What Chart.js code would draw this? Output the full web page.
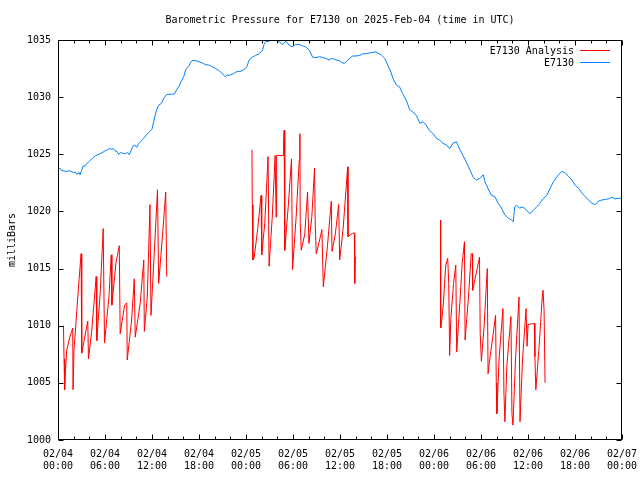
<!DOCTYPE html>
<html>
<head>
<meta charset="utf-8">
<title>Barometric Pressure E7130</title>
<script src="https://cdn.jsdelivr.net/npm/chart.js@4/dist/chart.umd.min.js"></script>
<style>
  html, body { margin: 0; padding: 0; background: #fff; }
  #wrap { width: 640px; height: 480px; position: relative; }
</style>
</head>
<body>
<div id="wrap"><canvas id="pressure"></canvas></div>
<script>
// ── Data (hours after 02/04 00:00 UTC, millibars) ──────────────────────────────

// E7130 station observations
const OBS_HOURS = [
  0.0, 0.26, 0.4, 1.0, 1.5, 2.0, 2.2, 2.4, 2.7, 2.82, 2.95, 3.08, 3.2, 3.5, 3.7,
  4.0, 4.23, 4.5, 4.75, 5.0, 5.25, 5.5, 5.77, 6.0, 6.3, 6.53, 6.8, 7.05, 7.3,
  7.55, 7.72, 7.98, 8.24, 8.5, 8.75, 8.9, 9.1, 9.35, 9.52, 9.8, 10.04, 10.3,
  10.55, 10.8, 11.06, 11.3, 11.57, 11.8, 12.0, 12.4, 12.6, 12.85, 13.2, 13.5,
  13.84, 14.1, 14.5, 14.9, 15.1, 15.4, 15.7, 16.06, 16.3, 16.5, 16.7, 16.9, 17.1,
  17.5, 18.0, 18.4, 18.8, 19.3, 19.7, 20.1, 20.5, 20.9, 21.2, 21.4, 21.6, 21.8,
  22.25, 22.7, 23.1, 23.5, 23.9, 24.1, 24.4, 24.8, 25.2, 25.7, 26.1, 26.3, 26.5,
  26.95, 27.4, 27.8, 28.2, 28.7, 29.1, 29.5, 29.9, 30.3, 30.8, 31.2, 31.6, 32.1,
  32.5, 32.9, 33.4, 33.8, 34.2, 34.6, 35.0, 35.5, 35.9, 36.3, 36.55, 37.0, 37.6,
  38.0, 38.5, 38.9, 39.3, 40.0, 40.6, 41.0, 41.25, 41.7, 42.1, 42.5, 42.75, 43.2,
  43.6, 44.0, 44.45, 44.9, 45.3, 45.75, 46.2, 46.6, 47.0, 47.4, 47.9, 48.3, 48.7,
  49.15, 49.6, 50.0, 50.4, 50.86, 51.3, 51.7, 52.1, 52.6, 53.0, 53.4, 53.85,
  54.3, 54.5, 54.9, 55.35, 55.77, 56.2, 56.6, 57.05, 57.5, 57.9, 58.12, 58.3,
  58.5, 58.9, 59.4, 59.8, 60.25, 60.7, 61.1, 61.5, 61.9, 62.4, 62.8, 63.25, 63.7,
  64.3, 64.7, 65.2, 65.6, 66.0, 66.5, 66.9, 67.3, 67.7, 68.2, 68.6, 69.0, 69.4,
  69.9, 70.3, 70.7, 71.1, 71.6, 72.0
];
const OBS_VALUES = [
  1023.7, 1023.77, 1023.6, 1023.5, 1023.55, 1023.4, 1023.45, 1023.25, 1023.4, 1023.2, 1023.5, 1023.7, 1023.97, 1024.0, 1024.2,
  1024.4, 1024.55, 1024.7, 1024.85, 1024.95, 1025.0, 1025.1, 1025.2, 1025.3, 1025.4, 1025.5, 1025.45, 1025.5, 1025.3,
  1025.25, 1025.0, 1025.15, 1025.1, 1025.05, 1025.1, 1025.15, 1024.95, 1025.35, 1025.7, 1025.8, 1025.6, 1025.95,
  1026.1, 1026.3, 1026.5, 1026.7, 1026.9, 1027.05, 1027.2, 1028.4, 1028.9, 1029.3, 1029.45, 1029.9,
  1030.2, 1030.25, 1030.25, 1030.3, 1030.6, 1030.9, 1031.35, 1031.8, 1032.4, 1032.55, 1032.7, 1033.0, 1033.2,
  1033.2, 1033.1, 1033.0, 1032.85, 1032.8, 1032.65, 1032.5, 1032.35, 1032.1, 1031.9, 1031.8, 1031.95, 1031.9,
  1032.0, 1032.2, 1032.25, 1032.3, 1032.5, 1032.65, 1033.25, 1033.5, 1033.65, 1033.8, 1034.1, 1034.6, 1034.85,
  1034.9, 1035.1, 1035.0, 1034.85, 1034.6, 1034.9, 1034.55, 1034.4, 1034.6, 1034.6, 1034.5, 1034.4, 1034.1,
  1033.5, 1033.45, 1033.55, 1033.45, 1033.4, 1033.25, 1033.4, 1033.25, 1033.2, 1033.0, 1032.96, 1033.25, 1033.6,
  1033.6, 1033.65, 1033.8, 1033.8, 1033.9, 1033.95, 1033.8, 1033.7, 1033.4, 1032.8, 1032.2, 1031.65, 1031.06,
  1030.9, 1030.3, 1029.75, 1028.9, 1028.7, 1028.4, 1027.7, 1027.85, 1027.56, 1027.1, 1026.8, 1026.4, 1026.25,
  1025.96, 1025.8, 1025.5, 1025.95, 1026.1, 1025.4, 1024.9, 1024.35, 1023.6, 1023.0, 1022.75, 1022.9,
  1023.2, 1022.6, 1022.0, 1021.4, 1021.3, 1020.7, 1020.3, 1019.7, 1019.4, 1019.25, 1019.1, 1020.4,
  1020.55, 1020.3, 1020.4, 1020.1, 1019.8, 1020.1, 1020.4, 1020.7, 1021.1, 1021.4, 1022.0, 1022.6, 1023.05,
  1023.5, 1023.4, 1023.05, 1022.75, 1022.3, 1022.0, 1021.6, 1021.3, 1021.0, 1020.7, 1020.6, 1020.9, 1021.0,
  1021.05, 1021.1, 1021.25, 1021.1, 1021.15, 1021.15
];

// E7130 analysis (null = no analysis, line breaks there)
const ANALYSIS_HOURS = [
  0.70, 0.77, 0.85, 0.95, 1.10, 1.50, 1.88, 1.92, 2.05, 2.20, 2.45, 2.70, 2.95,
  3.03, 3.30, 3.80, 3.89, 4.30, 4.87, 4.95, 5.40, 5.77, 5.94, 6.50, 6.80, 6.88,
  7.40, 7.82, 7.94, 8.50, 8.78, 8.84, 9.40, 9.74, 9.86, 10.50, 10.95, 11.02,
  11.40, 11.74, 11.87, 12.30, 12.70, 12.85, 13.30, 13.75, 13.88,
  19.0,
  24.76, 24.80, 24.88, 25.03, 25.50, 25.92, 26.01, 26.40, 26.82, 26.95, 27.35,
  27.72, 27.84, 27.91, 28.74, 28.80, 28.87, 28.95, 29.40, 29.81, 29.94, 30.40,
  30.80, 30.88, 30.92, 31.05, 31.50, 31.86, 32.03, 32.40, 32.75, 32.84, 32.97,
  33.40, 33.69, 33.87, 34.40, 34.89, 34.98, 35.40, 35.83, 35.96, 36.40, 36.98,
  37.02, 37.62, 37.84, 37.88, 37.96, 38.09,
  43.0,
  48.83, 48.85, 48.95, 49.20, 49.50, 49.75, 49.88, 50.00, 50.15, 50.50, 50.78,
  50.90, 51.30, 51.60, 51.89, 51.97, 52.40, 52.75, 52.90, 52.93, 53.40, 53.81,
  53.90, 54.05, 54.40, 54.80, 54.90, 55.05, 55.50, 55.86, 55.95, 56.03, 56.30,
  56.80, 56.93, 57.05, 57.30, 57.82, 57.95, 58.08, 58.40, 58.85, 58.98, 59.30,
  59.75, 59.88, 60.00, 60.80, 60.88, 61.00, 61.40, 61.80, 61.92, 62.05, 62.18
];
const ANALYSIS_VALUES = [
  1010.0, 1007.1, 1004.4, 1006.0, 1007.8, 1009.0, 1009.8, 1004.4, 1008.0, 1009.3, 1011.8, 1014.1, 1016.3,
  1007.6, 1008.6, 1010.4, 1007.1, 1009.5, 1014.3, 1008.7, 1013.0, 1018.5, 1008.5, 1012.5, 1016.2, 1011.8,
  1015.5, 1017.0, 1009.3, 1011.8, 1012.0, 1007.0, 1010.5, 1014.1, 1009.0, 1012.0, 1015.75, 1009.5,
  1012.5, 1020.6, 1010.9, 1016.5, 1021.9, 1013.7, 1017.5, 1021.7, 1014.3,
  null,
  1025.4, 1020.6, 1015.75, 1015.9, 1018.5, 1021.4, 1016.2, 1019.0, 1024.8, 1015.2, 1019.5,
  1024.9, 1019.5, 1024.9, 1024.9, 1026.0, 1027.1, 1016.6, 1020.5, 1024.6, 1014.9, 1019.5,
  1024.5, 1026.8, 1019.1, 1016.6, 1018.0, 1021.7, 1017.2, 1019.5, 1023.8, 1018.8, 1016.3,
  1017.5, 1018.4, 1013.4, 1017.0, 1020.9, 1016.5, 1018.0, 1020.6, 1015.75, 1018.5, 1023.9,
  1017.8, 1018.1, 1018.1, 1013.7, 1016.0, 1016.0,
  null,
  1019.25, 1009.8, 1010.2, 1012.0, 1015.3, 1015.9, 1013.7, 1007.4, 1010.6, 1013.7, 1015.3,
  1007.7, 1012.0, 1015.5, 1017.35, 1008.75, 1012.5, 1016.3, 1016.3, 1013.1, 1014.6, 1016.0,
  1009.3, 1006.9, 1010.0, 1015.0, 1005.8, 1006.7, 1009.0, 1010.9, 1005.0, 1002.3, 1007.0,
  1011.5, 1004.1, 1001.6, 1006.5, 1010.8, 1002.3, 1001.3, 1007.0, 1012.5, 1001.6, 1007.0,
  1011.5, 1008.2, 1010.1, 1010.2, 1007.3, 1004.4, 1008.0, 1012.25, 1013.1, 1011.4, 1005.0
];

// Axis ranges / tick steps
const X_MIN = 0, X_MAX = 72, X_MAJOR = 6, X_MINOR = 2;
const Y_MIN = 1000, Y_MAX = 1035, Y_STEP = 5;
const START_DAY = 4;

const TITLE = "Barometric Pressure for E7130 on 2025-Feb-04 (time in UTC)";
const FONT = "'DejaVu Sans Mono', 'Liberation Mono', monospace";

const COLORS = {
  analysis: "#ff0000",
  obs:      "#0080ff",
};

// ── Helpers ───────────────────────────────────────────────────────────────────

function toPoints(hours, values) {
  return hours.map((h, i) => ({ x: h, y: values[i] }));
}

function hourLabel(h) {
  const day = START_DAY + Math.floor(h / 24);
  const hh = String(h % 24).padStart(2, "0");
  return ["02/" + String(day).padStart(2, "0"), hh + ":00"];
}

// gnuplot-ish frame: box border, inward ticks on all sides, title, key
const gnuplotFrame = {
  id: "gnuplotFrame",
  afterDraw(chart) {
    const { ctx, chartArea: a, scales: { x, y } } = chart;
    ctx.save();
    ctx.strokeStyle = "#000";
    ctx.lineWidth = 1;

    const L = a.left + 0.5, R = a.right - 0.5, T = a.top + 0.5, B = a.bottom - 0.5;
    ctx.strokeRect(L, T, R - L, B - T);

    ctx.beginPath();
    for (let h = X_MIN; h <= X_MAX; h += X_MINOR) {
      const px = Math.round(x.getPixelForValue(h)) + 0.5;
      const len = h % X_MAJOR === 0 ? 5 : 3;
      ctx.moveTo(px, B); ctx.lineTo(px, B - len);
      ctx.moveTo(px, T); ctx.lineTo(px, T + len);
    }
    for (let v = Y_MIN; v <= Y_MAX; v += Y_STEP) {
      const py = Math.round(y.getPixelForValue(v)) + 0.5;
      ctx.moveTo(L, py); ctx.lineTo(L + 5, py);
      ctx.moveTo(R, py); ctx.lineTo(R - 5, py);
    }
    ctx.stroke();

    // title
    ctx.fillStyle = "#000";
    ctx.font = "10px " + FONT;
    ctx.textAlign = "center";
    ctx.textBaseline = "middle";
    ctx.fillText(TITLE, (a.left + a.right) / 2, 20);

    // key, top right inside the frame
    ctx.textAlign = "right";
    chart.data.datasets.forEach((ds, i) => {
      const ky = 51 + i * 12;
      ctx.fillText(ds.label, 574, ky);
      ctx.strokeStyle = ds.borderColor;
      ctx.beginPath();
      ctx.moveTo(580, ky - 0.5);
      ctx.lineTo(610, ky - 0.5);
      ctx.stroke();
    });
    ctx.restore();
  },
};

// ── Chart ─────────────────────────────────────────────────────────────────────

new Chart(document.getElementById("pressure"), {
  type: "line",
  data: {
    datasets: [
      {
        label: "E7130 Analysis",
        data: toPoints(ANALYSIS_HOURS, ANALYSIS_VALUES),
        borderColor: COLORS.analysis,
        borderWidth: 1,
        pointRadius: 0,
        tension: 0,
        spanGaps: false,
      },
      {
        label: "E7130",
        data: toPoints(OBS_HOURS, OBS_VALUES),
        borderColor: COLORS.obs,
        borderWidth: 1,
        pointRadius: 0,
        tension: 0,
      },
    ],
  },
  options: {
    responsive: true,
    maintainAspectRatio: false,
    animation: false,
    layout: { padding: { top: 40, right: 18, left: 0, bottom: 0 } },
    plugins: {
      legend: { display: false },
      title: { display: false },
      tooltip: { enabled: false },
    },
    scales: {
      x: {
        type: "linear",
        min: X_MIN,
        max: X_MAX,
        grid: { display: false, drawTicks: false },
        border: { display: false },
        afterFit: s => { s.height = 40; s.paddingLeft = 0; s.paddingRight = 0; },
        ticks: {
          stepSize: X_MAJOR,
          autoSkip: false,
          maxRotation: 0,
          padding: 9,
          color: "#000",
          font: { family: FONT, size: 10, lineHeight: 1.15 },
          callback: v => hourLabel(v),
        },
      },
      y: {
        min: Y_MIN,
        max: Y_MAX,
        grid: { display: false, drawTicks: false },
        border: { display: false },
        afterFit: s => { s.width = 58; s.paddingTop = 0; s.paddingBottom = 0; },
        title: {
          display: true,
          text: "milliBars",
          color: "#000",
          font: { family: FONT, size: 10 },
          padding: { top: 6, bottom: 0 },
        },
        ticks: {
          stepSize: Y_STEP,
          padding: 7,
          color: "#000",
          font: { family: FONT, size: 10 },
          callback: v => String(v),
        },
      },
    },
  },
  plugins: [gnuplotFrame],
});
</script>
</body>
</html>
